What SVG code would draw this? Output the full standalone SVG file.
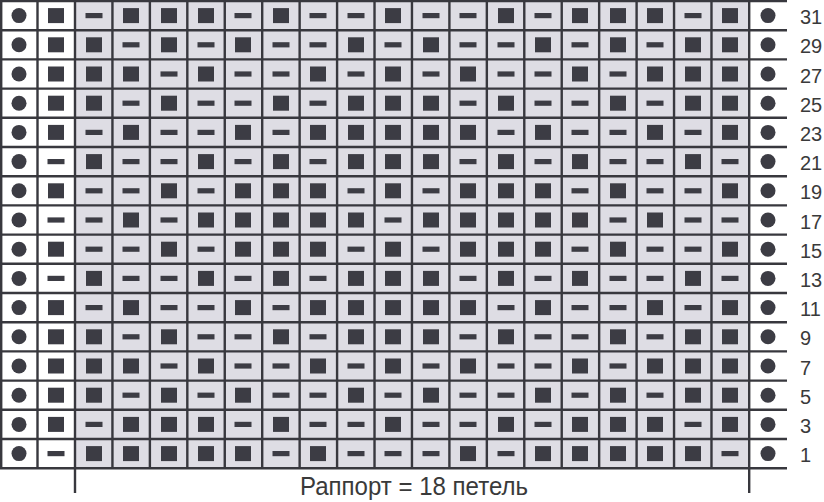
<svg xmlns="http://www.w3.org/2000/svg" xmlns:xlink="http://www.w3.org/1999/xlink" width="824" height="502" viewBox="0 0 824 502">
<style>
.ln{stroke:#38383e;stroke-width:2.4;fill:none}
.num{font-family:"Liberation Sans","DejaVu Sans",sans-serif;font-size:20px;fill:#3a3a3a}
.cap{font-family:"Liberation Sans","DejaVu Sans",sans-serif;font-size:25px;fill:#3a3a3a}
</style>
<defs>
<rect id="s" x="-8" y="-7.5" width="16" height="15" fill="#3c3c44"/>
<rect id="d" x="-8.5" y="-2.6" width="17" height="5.2" fill="#3c3c44"/>
<circle id="o" r="7.5" fill="#3c3c44"/>
</defs>
<rect x="0" y="0" width="824" height="502" fill="#ffffff"/>
<rect x="75" y="1" width="674" height="467.2" fill="#dedde4"/>
<g id="grid">
<path class="ln" d="M0 1H787M0 30.2H787M0 59.4H787M0 88.6H787M0 117.8H787M0 147H787M0 176.2H787M0 205.4H787M0 234.6H787M0 263.8H787M0 293H787M0 322.2H787M0 351.4H787M0 380.6H787M0 409.8H787M0 439H787M0 468.2H787"/>
<path class="ln" d="M1.2 1V468.2M37.5 1V468.2M75 1V493M112.44 1V468.2M149.88 1V468.2M187.32 1V468.2M224.76 1V468.2M262.2 1V468.2M299.64 1V468.2M337.08 1V468.2M374.52 1V468.2M411.96 1V468.2M449.4 1V468.2M486.84 1V468.2M524.28 1V468.2M561.72 1V468.2M599.16 1V468.2M636.6 1V468.2M674.04 1V468.2M711.48 1V468.2M749.2 1V493"/>
</g>
<g id="row31" transform="translate(0,15.6)"><use href="#o" x="19"/><use href="#s" x="56"/><use href="#d" x="94"/><use href="#s" x="131"/><use href="#s" x="169"/><use href="#s" x="206"/><use href="#d" x="243"/><use href="#s" x="281"/><use href="#d" x="318"/><use href="#d" x="356"/><use href="#s" x="393"/><use href="#d" x="431"/><use href="#d" x="468"/><use href="#s" x="506"/><use href="#d" x="543"/><use href="#s" x="580"/><use href="#s" x="618"/><use href="#s" x="655"/><use href="#d" x="693"/><use href="#s" x="730"/><use href="#o" x="768"/><text class="num" x="800" y="8.5">31</text></g>
<g id="row29" transform="translate(0,44.8)"><use href="#o" x="19"/><use href="#s" x="56"/><use href="#s" x="94"/><use href="#d" x="131"/><use href="#s" x="169"/><use href="#d" x="206"/><use href="#s" x="243"/><use href="#d" x="281"/><use href="#d" x="318"/><use href="#s" x="356"/><use href="#d" x="393"/><use href="#s" x="431"/><use href="#d" x="468"/><use href="#d" x="506"/><use href="#s" x="543"/><use href="#d" x="580"/><use href="#s" x="618"/><use href="#d" x="655"/><use href="#s" x="693"/><use href="#s" x="730"/><use href="#o" x="768"/><text class="num" x="800" y="8.5">29</text></g>
<g id="row27" transform="translate(0,74)"><use href="#o" x="19"/><use href="#s" x="56"/><use href="#s" x="94"/><use href="#s" x="131"/><use href="#d" x="169"/><use href="#s" x="206"/><use href="#d" x="243"/><use href="#d" x="281"/><use href="#s" x="318"/><use href="#d" x="356"/><use href="#s" x="393"/><use href="#d" x="431"/><use href="#s" x="468"/><use href="#d" x="506"/><use href="#d" x="543"/><use href="#s" x="580"/><use href="#d" x="618"/><use href="#s" x="655"/><use href="#s" x="693"/><use href="#s" x="730"/><use href="#o" x="768"/><text class="num" x="800" y="8.5">27</text></g>
<g id="row25" transform="translate(0,103.2)"><use href="#o" x="19"/><use href="#s" x="56"/><use href="#s" x="94"/><use href="#d" x="131"/><use href="#s" x="169"/><use href="#d" x="206"/><use href="#d" x="243"/><use href="#s" x="281"/><use href="#d" x="318"/><use href="#s" x="356"/><use href="#s" x="393"/><use href="#s" x="431"/><use href="#d" x="468"/><use href="#s" x="506"/><use href="#d" x="543"/><use href="#d" x="580"/><use href="#s" x="618"/><use href="#d" x="655"/><use href="#s" x="693"/><use href="#s" x="730"/><use href="#o" x="768"/><text class="num" x="800" y="8.5">25</text></g>
<g id="row23" transform="translate(0,132.4)"><use href="#o" x="19"/><use href="#s" x="56"/><use href="#d" x="94"/><use href="#s" x="131"/><use href="#d" x="169"/><use href="#d" x="206"/><use href="#s" x="243"/><use href="#d" x="281"/><use href="#s" x="318"/><use href="#s" x="356"/><use href="#s" x="393"/><use href="#s" x="431"/><use href="#s" x="468"/><use href="#d" x="506"/><use href="#s" x="543"/><use href="#d" x="580"/><use href="#d" x="618"/><use href="#s" x="655"/><use href="#d" x="693"/><use href="#s" x="730"/><use href="#o" x="768"/><text class="num" x="800" y="8.5">23</text></g>
<g id="row21" transform="translate(0,161.6)"><use href="#o" x="19"/><use href="#d" x="56"/><use href="#s" x="94"/><use href="#d" x="131"/><use href="#d" x="169"/><use href="#s" x="206"/><use href="#d" x="243"/><use href="#s" x="281"/><use href="#d" x="318"/><use href="#s" x="356"/><use href="#s" x="393"/><use href="#s" x="431"/><use href="#d" x="468"/><use href="#s" x="506"/><use href="#d" x="543"/><use href="#s" x="580"/><use href="#d" x="618"/><use href="#d" x="655"/><use href="#s" x="693"/><use href="#d" x="730"/><use href="#o" x="768"/><text class="num" x="800" y="8.5">21</text></g>
<g id="row19" transform="translate(0,190.8)"><use href="#o" x="19"/><use href="#s" x="56"/><use href="#d" x="94"/><use href="#d" x="131"/><use href="#s" x="169"/><use href="#d" x="206"/><use href="#s" x="243"/><use href="#s" x="281"/><use href="#s" x="318"/><use href="#d" x="356"/><use href="#s" x="393"/><use href="#d" x="431"/><use href="#s" x="468"/><use href="#s" x="506"/><use href="#s" x="543"/><use href="#d" x="580"/><use href="#s" x="618"/><use href="#d" x="655"/><use href="#d" x="693"/><use href="#s" x="730"/><use href="#o" x="768"/><text class="num" x="800" y="8.5">19</text></g>
<g id="row17" transform="translate(0,220)"><use href="#o" x="19"/><use href="#d" x="56"/><use href="#d" x="94"/><use href="#s" x="131"/><use href="#d" x="169"/><use href="#s" x="206"/><use href="#s" x="243"/><use href="#s" x="281"/><use href="#s" x="318"/><use href="#s" x="356"/><use href="#d" x="393"/><use href="#s" x="431"/><use href="#s" x="468"/><use href="#s" x="506"/><use href="#s" x="543"/><use href="#s" x="580"/><use href="#d" x="618"/><use href="#s" x="655"/><use href="#d" x="693"/><use href="#d" x="730"/><use href="#o" x="768"/><text class="num" x="800" y="8.5">17</text></g>
<g id="row15" transform="translate(0,249.2)"><use href="#o" x="19"/><use href="#s" x="56"/><use href="#d" x="94"/><use href="#d" x="131"/><use href="#s" x="169"/><use href="#d" x="206"/><use href="#s" x="243"/><use href="#s" x="281"/><use href="#s" x="318"/><use href="#d" x="356"/><use href="#s" x="393"/><use href="#d" x="431"/><use href="#s" x="468"/><use href="#s" x="506"/><use href="#s" x="543"/><use href="#d" x="580"/><use href="#s" x="618"/><use href="#d" x="655"/><use href="#d" x="693"/><use href="#s" x="730"/><use href="#o" x="768"/><text class="num" x="800" y="8.5">15</text></g>
<g id="row13" transform="translate(0,278.4)"><use href="#o" x="19"/><use href="#d" x="56"/><use href="#s" x="94"/><use href="#d" x="131"/><use href="#d" x="169"/><use href="#s" x="206"/><use href="#d" x="243"/><use href="#s" x="281"/><use href="#d" x="318"/><use href="#s" x="356"/><use href="#s" x="393"/><use href="#s" x="431"/><use href="#d" x="468"/><use href="#s" x="506"/><use href="#d" x="543"/><use href="#s" x="580"/><use href="#d" x="618"/><use href="#d" x="655"/><use href="#s" x="693"/><use href="#d" x="730"/><use href="#o" x="768"/><text class="num" x="800" y="8.5">13</text></g>
<g id="row11" transform="translate(0,307.6)"><use href="#o" x="19"/><use href="#s" x="56"/><use href="#d" x="94"/><use href="#s" x="131"/><use href="#d" x="169"/><use href="#d" x="206"/><use href="#s" x="243"/><use href="#d" x="281"/><use href="#s" x="318"/><use href="#s" x="356"/><use href="#s" x="393"/><use href="#s" x="431"/><use href="#s" x="468"/><use href="#d" x="506"/><use href="#s" x="543"/><use href="#d" x="580"/><use href="#d" x="618"/><use href="#s" x="655"/><use href="#d" x="693"/><use href="#s" x="730"/><use href="#o" x="768"/><text class="num" x="800" y="8.5">11</text></g>
<g id="row9" transform="translate(0,336.8)"><use href="#o" x="19"/><use href="#s" x="56"/><use href="#s" x="94"/><use href="#d" x="131"/><use href="#s" x="169"/><use href="#d" x="206"/><use href="#d" x="243"/><use href="#s" x="281"/><use href="#d" x="318"/><use href="#s" x="356"/><use href="#s" x="393"/><use href="#s" x="431"/><use href="#d" x="468"/><use href="#s" x="506"/><use href="#d" x="543"/><use href="#d" x="580"/><use href="#s" x="618"/><use href="#d" x="655"/><use href="#s" x="693"/><use href="#s" x="730"/><use href="#o" x="768"/><text class="num" x="800" y="8.5">9</text></g>
<g id="row7" transform="translate(0,366)"><use href="#o" x="19"/><use href="#s" x="56"/><use href="#s" x="94"/><use href="#s" x="131"/><use href="#d" x="169"/><use href="#s" x="206"/><use href="#d" x="243"/><use href="#d" x="281"/><use href="#s" x="318"/><use href="#d" x="356"/><use href="#s" x="393"/><use href="#d" x="431"/><use href="#s" x="468"/><use href="#d" x="506"/><use href="#d" x="543"/><use href="#s" x="580"/><use href="#d" x="618"/><use href="#s" x="655"/><use href="#s" x="693"/><use href="#s" x="730"/><use href="#o" x="768"/><text class="num" x="800" y="8.5">7</text></g>
<g id="row5" transform="translate(0,395.2)"><use href="#o" x="19"/><use href="#s" x="56"/><use href="#s" x="94"/><use href="#d" x="131"/><use href="#s" x="169"/><use href="#d" x="206"/><use href="#s" x="243"/><use href="#d" x="281"/><use href="#d" x="318"/><use href="#s" x="356"/><use href="#d" x="393"/><use href="#s" x="431"/><use href="#d" x="468"/><use href="#d" x="506"/><use href="#s" x="543"/><use href="#d" x="580"/><use href="#s" x="618"/><use href="#d" x="655"/><use href="#s" x="693"/><use href="#s" x="730"/><use href="#o" x="768"/><text class="num" x="800" y="8.5">5</text></g>
<g id="row3" transform="translate(0,424.4)"><use href="#o" x="19"/><use href="#s" x="56"/><use href="#d" x="94"/><use href="#s" x="131"/><use href="#s" x="169"/><use href="#s" x="206"/><use href="#d" x="243"/><use href="#s" x="281"/><use href="#d" x="318"/><use href="#d" x="356"/><use href="#s" x="393"/><use href="#d" x="431"/><use href="#d" x="468"/><use href="#s" x="506"/><use href="#d" x="543"/><use href="#s" x="580"/><use href="#s" x="618"/><use href="#s" x="655"/><use href="#d" x="693"/><use href="#s" x="730"/><use href="#o" x="768"/><text class="num" x="800" y="8.5">3</text></g>
<g id="row1" transform="translate(0,453.6)"><use href="#o" x="19"/><use href="#d" x="56"/><use href="#s" x="94"/><use href="#s" x="131"/><use href="#s" x="169"/><use href="#s" x="206"/><use href="#s" x="243"/><use href="#d" x="281"/><use href="#s" x="318"/><use href="#d" x="356"/><use href="#d" x="393"/><use href="#d" x="431"/><use href="#s" x="468"/><use href="#d" x="506"/><use href="#s" x="543"/><use href="#s" x="580"/><use href="#s" x="618"/><use href="#s" x="655"/><use href="#s" x="693"/><use href="#d" x="730"/><use href="#o" x="768"/><text class="num" x="800" y="8.5">1</text></g>
<g id="caption"><text class="cap" x="300" y="495" textLength="228" lengthAdjust="spacingAndGlyphs">Раппорт = 18 петель</text></g>
</svg>
